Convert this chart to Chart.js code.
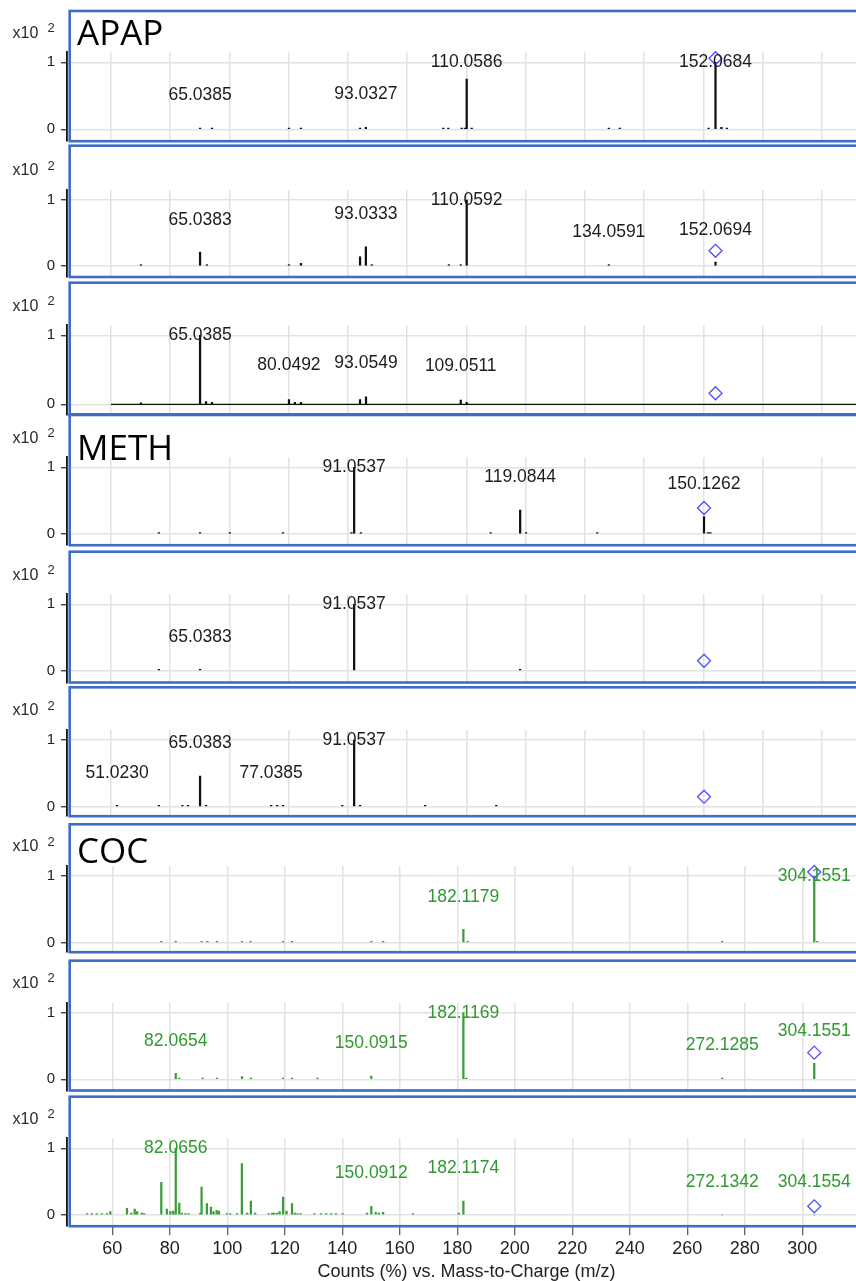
<!DOCTYPE html>
<html>
<head>
<meta charset="utf-8">
<title>Product ion spectra: APAP, METH, COC</title>
<script src="https://cdn.jsdelivr.net/npm/chart.js@4.4.1/dist/chart.umd.min.js"></script>
<style>
  html, body { margin: 0; padding: 0; background: #ffffff; }
  body { position: relative; width: 856px; height: 1281px; overflow: hidden; }
  canvas { position: absolute; left: 0; }
</style>
</head>
<body>
<script>
// ---------- spectra: m/z and relative counts (%) ----------
const apapAMz  = [65.0385, 67.05, 80.05, 82.07, 92.05, 93.0327, 106.1, 106.95, 109.2, 109.75, 110.0586, 110.9, 134.06, 135.9, 150.9, 152.0684, 153.07, 154.0];
const apapAInt = [2, 2, 2, 2, 2, 3, 2, 2, 2, 2, 75, 2, 2, 2, 2, 100, 3, 2];
const apapALabels = ['65.0385', '93.0327', '110.0586', '152.0684'];

const apapBMz  = [55.05, 65.0383, 66.2, 80.05, 82.07, 92.05, 93.0333, 94.04, 107.05, 109.05, 110.0592, 134.0591, 152.0694];
const apapBInt = [2, 21, 2, 2, 4, 14, 29, 2, 2, 2, 100, 2, 6];
const apapBLabels = ['65.0383', '93.0333', '110.0592', '134.0591', '152.0694'];

const apapCMz  = [55.05, 65.0385, 66.05, 67.05, 80.0492, 81.05, 82.07, 92.05, 93.0549, 109.0511, 110.06];
const apapCInt = [2, 100, 4, 3, 7, 3, 3, 7, 11, 6, 3];
const apapCLabels = ['65.0385', '80.0492', '93.0549', '109.0511'];
// continuous trace under the third APAP spectrum
const apapCProfileMz  = [50, 176];
const apapCProfileInt = [0, 0];

const methAMz  = [58.07, 65.04, 70.07, 79.05, 90.6, 91.0537, 92.2, 114.1, 119.0844, 120.08, 132.1, 150.1262, 150.8, 151.2];
const methAInt = [2, 2, 2, 2, 2, 100, 2, 2, 36, 2, 2, 26, 2, 2];
const methALabels = ['91.0537', '119.0844', '150.1262'];

const methBMz  = [58.07, 65.0383, 91.0537, 119.08];
const methBInt = [2, 2, 100, 2];
const methBLabels = ['65.0383', '91.0537'];

const methCMz  = [51.0230, 58.07, 62.05, 63.0, 65.0383, 66.05, 77.0385, 78.05, 79.05, 89.05, 91.0537, 92.06, 103.05, 115.05];
const methCInt = [2, 2, 2, 2, 46, 2, 2, 2, 2, 2, 100, 2, 2, 2];
const methCLabels = ['51.0230', '65.0383', '77.0385', '91.0537'];

const cocAMz  = [77.04, 82.07, 91.05, 93.07, 96.4, 105.07, 108.08, 119.4, 122.5, 150.09, 154.2, 182.1179, 183.6, 272.1, 304.1551, 305.2];
const cocAInt = [2, 2, 2, 2, 2, 2, 2, 2, 2, 2, 2, 20, 2, 2, 100, 2];
const cocALabels = ['182.1179', '304.1551'];

const cocBMz  = [82.0654, 83.3, 91.4, 96.4, 105.1, 108.2, 119.4, 122.5, 131.4, 150.0915, 182.1169, 183.1, 272.1285, 304.1551];
const cocBInt = [9, 2, 2, 2, 4, 2, 2, 2, 2, 5, 100, 2, 2, 24];
const cocBLabels = ['82.0654', '150.0915', '182.1169', '272.1285', '304.1551'];

const cocCMz  = [51.2, 52.9, 54.6, 56.4, 58.1, 59.3, 65.1, 66.6, 67.8, 68.6, 70.3, 71.1,
                 77.04, 79.0, 80.2, 81.2, 82.0656, 83.3, 84.2, 85.4, 86.5,
                 90.6, 91.05, 92.9, 94.3, 95.2, 96.3, 97.1, 99.9, 101.0, 103.4,
                 105.07, 106.9, 108.2, 109.7, 114.4, 115.6, 116.3, 117.3, 118.2, 119.4, 120.6,
                 122.5, 123.5, 124.4, 125.5, 130.3, 132.6, 134.4, 136.1, 137.8, 140.1,
                 148.6, 150.0912, 151.6, 152.7, 154.2, 164.6, 180.5, 182.1174, 272.1342, 304.1554];
const cocCInt = [2, 2, 2, 2, 2, 5, 10, 3, 9, 5, 3, 2,
                 49, 9, 5, 6, 100, 18, 3, 2, 2,
                 3, 42, 17, 12, 5, 7, 6, 2, 2, 2,
                 77, 3, 21, 3, 2, 3, 3, 3, 5, 27, 6,
                 17, 3, 2, 2, 2, 2, 2, 2, 2, 2,
                 3, 13, 4, 3, 4, 2, 3, 21, 0, 0];
const cocCLabels = ['82.0656', '150.0912', '182.1174', '272.1342', '304.1554'];

// precursor ion marker for each panel (top to bottom)
const precursorMz  = [152.0706, 152.0706, 152.0706, 150.1277, 150.1277, 150.1277, 304.1543, 304.1543, 304.1543];
const precursorInt = [106, 23, 16, 39, 15, 15, 106, 40, 13];

// axis ticks
const narrowGridMz = [50, 60, 70, 80, 90, 100, 110, 120, 130, 140, 150, 160, 170];
const wideTickMz   = [60, 80, 100, 120, 140, 160, 180, 200, 220, 240, 260, 280, 300];
const countTicks   = [0, 100];
const compoundNames = ['APAP', 'METH', 'COC'];
const axisTitle = 'Counts (%) vs. Mass-to-Charge (m/z)';

// ---------- page layout ----------
const W = 856, H = 1281;
const FRAME_TOP    = [11, 145.7, 282.7, 414.3, 551.7, 687.3, 824.3, 960.7, 1096.7];
const FRAME_BOTTOM = [141.2, 277, 415, 545.2, 682.5, 816.2, 952.2, 1090.5, 1226.2];
const ROW_ONE      = [62.3, 200, 335.3, 467.3, 604.3, 740, 876, 1012.7, 1148.3];
const ROW_ZERO     = [129.3, 266, 404.3, 534, 670.7, 806.7, 942.7, 1079.3, 1215];
const NAME_SHIFT   = { APAP: -17.3, METH: -7.8, COC: -13 };
const NARROW_RANGE = [42.57, 175.79];
const WIDE_RANGE   = [44.24, 318.68];
const LABEL_LIFT = 49;
const AXIS_TITLE_POS = [466.5, 1272];

const BLACK = '#111111', GREEN = '#3a9d3a', GREEN_TEXT = '#2f992f';
const GRID = '#e2e2e2', FRAME = '#3d6dc5', DIAMOND = '#4f4fff';
const SANS = '"Liberation Sans", Arial, sans-serif';

const panels = [
  { name: compoundNames[0], mz: apapAMz, int: apapAInt, labels: apapALabels, wide: false },
  { name: null, mz: apapBMz, int: apapBInt, labels: apapBLabels, wide: false },
  { name: null, mz: apapCMz, int: apapCInt, labels: apapCLabels, wide: false,
    profile: { mz: apapCProfileMz, int: apapCProfileInt } },
  { name: compoundNames[1], mz: methAMz, int: methAInt, labels: methALabels, wide: false },
  { name: null, mz: methBMz, int: methBInt, labels: methBLabels, wide: false },
  { name: null, mz: methCMz, int: methCInt, labels: methCLabels, wide: false },
  { name: compoundNames[2], mz: cocAMz, int: cocAInt, labels: cocALabels, wide: true },
  { name: null, mz: cocBMz, int: cocBInt, labels: cocBLabels, wide: true },
  { name: null, mz: cocCMz, int: cocCInt, labels: cocCLabels, wide: true }
];

function buildPanel(p, i) {
  const last = i === panels.length - 1;
  const top = Math.floor(FRAME_TOP[i] - 3);
  const height = last ? H - top : Math.ceil(FRAME_BOTTOM[i] + 3) - top;
  const areaTop = ROW_ONE[i] - 10 - top;
  const areaBottom = FRAME_BOTTOM[i] - top;
  const ppu = ROW_ZERO[i] - ROW_ONE[i];              // pixels per 100 %
  const yMax = 100 + 10 * 100 / ppu;
  const yMin = -(FRAME_BOTTOM[i] - ROW_ZERO[i]) * 100 / ppu;
  const range = p.wide ? WIDE_RANGE : NARROW_RANGE;
  const gridMz = p.wide ? wideTickMz : narrowGridMz;
  const stemColor = p.wide ? GREEN : BLACK;
  const textColor = p.wide ? GREEN_TEXT : '#1c1c1c';

  const cv = document.createElement('canvas');
  cv.width = W; cv.height = height;
  cv.style.width = W + 'px'; cv.style.height = height + 'px';
  cv.style.top = top + 'px';
  document.body.appendChild(cv);

  const datasets = [
    { type: 'bar', data: p.mz.map((m, k) => ({ x: m, y: p.int[k] })),
      backgroundColor: stemColor, borderWidth: 0, barThickness: 1.6, order: 2 },
    { type: 'scatter', data: [{ x: precursorMz[i], y: precursorInt[i] }],
      pointStyle: 'rectRot', pointRadius: 6.5, borderColor: DIAMOND, borderWidth: 1.3,
      backgroundColor: 'rgba(0,0,0,0)', clip: false, order: 0 }
  ];
  if (p.profile) {
    datasets.push({ type: 'line', data: p.profile.mz.map((m, k) => ({ x: m, y: p.profile.int[k] })),
      borderColor: BLACK, borderWidth: 1.3, pointRadius: 0, order: 1 });
  }

  const decor = {
    id: 'decor' + i,
    afterDraw(chart) {
      const { ctx, scales: { x, y } } = chart;
      ctx.save();
      // peak annotations
      ctx.font = '17.5px ' + SANS;
      ctx.fillStyle = textColor;
      ctx.textAlign = 'center';
      ctx.textBaseline = 'middle';
      p.labels.forEach(txt => {
        const mz = parseFloat(txt);
        const k = p.mz.indexOf(mz);
        const h = k >= 0 ? p.int[k] : 0;
        const level = Math.min(h + LABEL_LIFT, 100);
        ctx.fillText(txt, x.getPixelForValue(mz), y.getPixelForValue(level));
      });
      // shared m/z axis title under the last panel
      if (last) {
        ctx.font = '18px ' + SANS;
        ctx.fillStyle = '#222';
        ctx.fillText(axisTitle, AXIS_TITLE_POS[0], AXIS_TITLE_POS[1] - top);
      }
      // axis multiplier
      ctx.fillStyle = '#2a2a2a';
      ctx.textAlign = 'left';
      ctx.font = '16px ' + SANS;
      ctx.fillText('x10', 12.5, ROW_ONE[i] - 29 - top);
      ctx.font = '13px ' + SANS;
      ctx.fillText('2', 47.5, ROW_ONE[i] - 34 - top);
      // compound name
      if (p.name) {
        ctx.font = '35px "Open Sans", sans-serif';
        ctx.fillStyle = '#000';
        ctx.textBaseline = 'alphabetic';
        ctx.fillText(p.name, 77, ROW_ONE[i] + NAME_SHIFT[p.name] - top);
      }
      // panel frame
      ctx.strokeStyle = FRAME;
      ctx.lineWidth = 2.6;
      ctx.strokeRect(69.7, FRAME_TOP[i] - top, 900, FRAME_BOTTOM[i] - FRAME_TOP[i]);
      ctx.restore();
    }
  };

  new Chart(cv, {
    type: 'bar',
    data: { datasets },
    options: {
      responsive: false,
      animation: false,
      events: [],
      layout: { autoPadding: false,
                padding: { top: areaTop, bottom: last ? 0 : height - areaBottom, left: 0, right: 0 } },
      plugins: { legend: { display: false }, tooltip: { enabled: false } },
      scales: {
        x: {
          type: 'linear', min: range[0], max: range[1], offset: false,
          afterBuildTicks: s => { s.ticks = gridMz.map(v => ({ value: v })); },
          afterFit: s => { if (last) s.height = height - areaBottom; },
          grid: { color: GRID, lineWidth: 1.5, offset: false, drawTicks: last,
                  tickLength: 9, tickColor: '#333', tickWidth: 1 },
          border: { display: false },
          ticks: { display: last, autoSkip: false, maxRotation: 0, padding: 3,
                   color: '#222', font: { family: SANS, size: 18 } },
          title: { display: false }
        },
        y: {
          min: yMin, max: yMax,
          afterBuildTicks: s => { s.ticks = countTicks.map(v => ({ value: v })); },
          afterFit: s => { s.width = 67; s.paddingTop = 0; s.paddingBottom = 0; },
          grid: { color: GRID, lineWidth: 1.5, tickColor: '#222', tickLength: 6, tickWidth: 1.2 },
          border: { display: true, color: '#111', width: 1.8 },
          ticks: { padding: 6, color: '#222', font: { family: SANS, size: 15 },
                   callback: v => String(v / 100) }
        }
      }
    },
    plugins: [decor]
  });
}

panels.forEach(buildPanel);
</script>
</body>
</html>
